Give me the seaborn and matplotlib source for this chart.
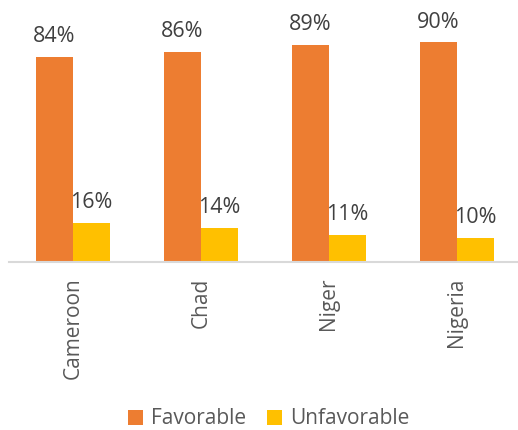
import matplotlib
matplotlib.use("Agg")
import matplotlib.pyplot as plt
import seaborn as sns
import pandas as pd
from matplotlib.patches import Patch

countries = ["Cameroon", "Chad", "Niger", "Nigeria"]
favorable = [84, 86, 89, 90]
unfavorable = [16, 14, 11, 10]
series_names = ["Favorable", "Unfavorable"]
colors = ["#ED7D31", "#FFC000"]

df = pd.DataFrame({
    "country": countries * 2,
    "value": favorable + unfavorable,
    "opinion": [series_names[0]] * len(countries) + [series_names[1]] * len(countries),
})

sns.set_theme(style="white")
plt.rcParams["font.family"] = ["Open Sans", "DejaVu Sans"]

W, H = 518, 430
fig = plt.figure(figsize=(W / 100, H / 100), dpi=100)
ax = fig.add_axes([9 / W, 1 - 262 / H, 509 / W, (262 - 18) / H])

sns.barplot(data=df, x="country", y="value", hue="opinion", palette=colors,
            width=0.58, ax=ax, legend=False, saturation=1, linewidth=0)

for cont in ax.containers:
    ax.bar_label(cont, labels=[f"{v:.0f}%" for v in cont.datavalues],
                 padding=7, fontsize=15.5, color="#404040")

ax.set_ylim(0, 100)
ax.set_xlim(-0.5, 3.477)
ax.set_xlabel("")
ax.set_ylabel("")
ax.set_yticks([])
ax.tick_params(axis="x", length=0, pad=11, labelsize=15, labelcolor="#595959")
for lbl in ax.get_xticklabels():
    lbl.set_rotation(90)
for s in ["top", "left", "right"]:
    ax.spines[s].set_visible(False)
ax.spines["bottom"].set_color("#D9D9D9")
ax.spines["bottom"].set_linewidth(1.5)

handles = [Patch(facecolor=c, edgecolor="none") for c in colors]
fig.legend(handles, series_names, loc="center", bbox_to_anchor=(269 / W, 1 - 419 / H),
           ncol=2, frameon=False, fontsize=15, labelcolor="#595959",
           handlelength=0.7, handleheight=0.7, handletextpad=0.4, columnspacing=1.0)

fig.savefig("out.png", dpi=100)
